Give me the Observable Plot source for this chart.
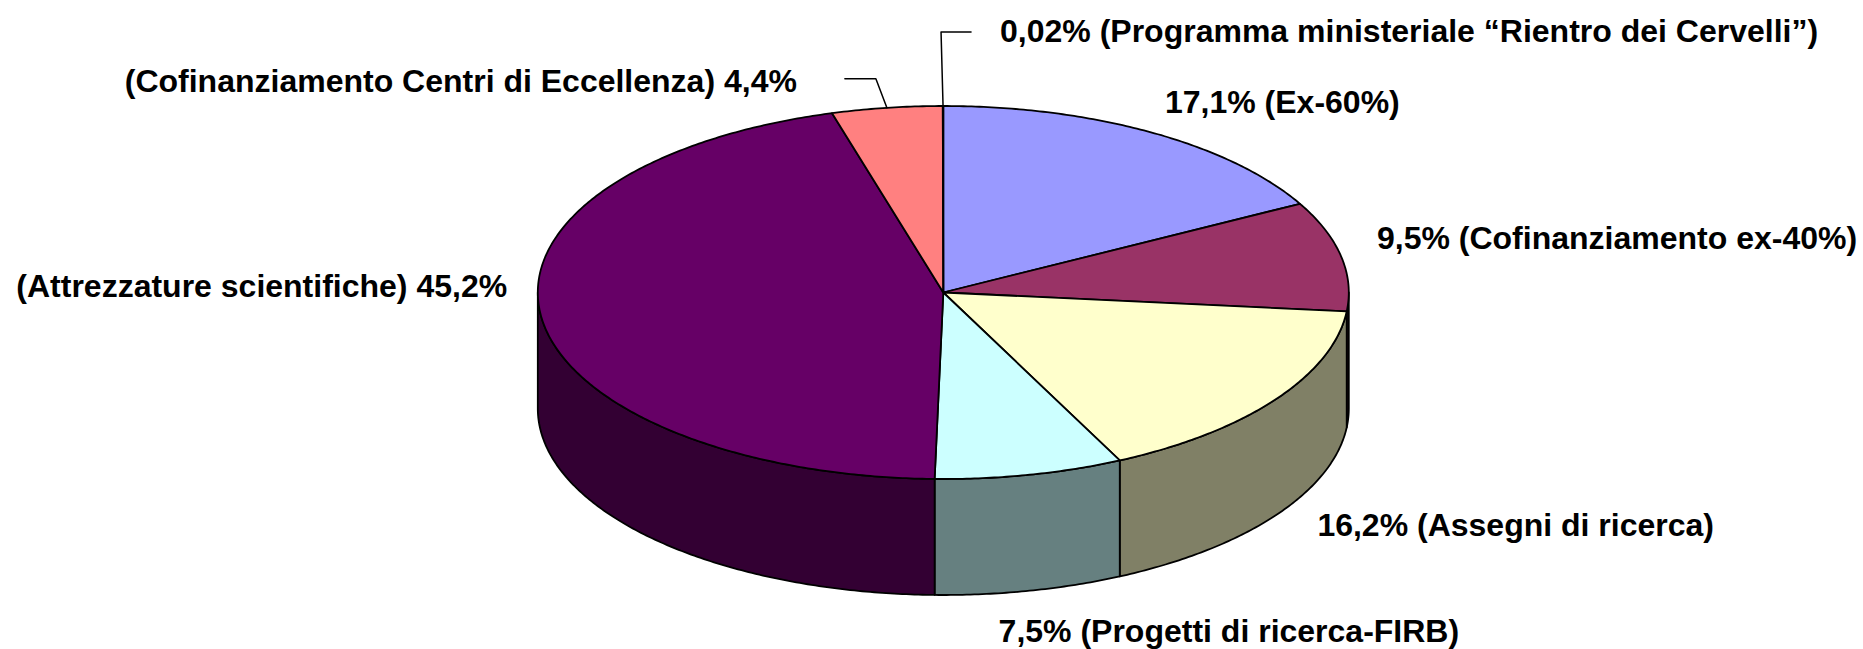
<!DOCTYPE html>
<html>
<head>
<meta charset="utf-8">
<script src="https://cdn.jsdelivr.net/npm/d3@7"></script>
<script src="https://cdn.jsdelivr.net/npm/@observablehq/plot@0.6"></script>
<style>html,body{margin:0;padding:0;background:#fff}svg{display:block}</style>
</head>
<body>
<div id="chart"></div>
<script>
// Data: clockwise from 12 o'clock
const names = ["Ex-60%", "Cofinanziamento ex-40%", "Assegni di ricerca", "Progetti di ricerca-FIRB", "Attrezzature scientifiche", "Cofinanziamento Centri di Eccellenza", "Programma ministeriale Rientro dei Cervelli"];
const values = [17.1, 9.5, 16.2, 7.5, 45.2, 4.4, 0.02];
const labels = [
  "17,1% (Ex-60%)",
  "9,5% (Cofinanziamento ex-40%)",
  "16,2% (Assegni di ricerca)",
  "7,5% (Progetti di ricerca-FIRB)",
  "(Attrezzature scientifiche) 45,2%",
  "(Cofinanziamento Centri di Eccellenza) 4,4%",
  "0,02% (Programma ministeriale “Rientro dei Cervelli”)"
];
const topColors = ["#9999FF", "#993366", "#FFFFCC", "#CCFFFF", "#660066", "#FF8080", "#0066CC"];
const sideColors = ["#4D4D80", "#4D1A33", "#808066", "#668080", "#330033", "#804040", "#003366"];

// Layout (pixels)
const W = 1863, H = 649;
const cx = 942.8, cy = 292, rx = 405.5, ry = 186.5, depth = 116;
const labelOffsets = [[14, -30, "start"], [36, -17, "start"], [42, 126, "start"], [-31, 157, "start"], [-34, -30, "end"], [-90, -26, "end"], [57, -74, "start"]];
const leaderKnees = {5: [[-11, -29], [-42, -29]], 6: [[-2, -74], [28, -74]]};

const ux = (px) => px / rx, uy = (px) => px / ry; // pixels to pie units
const total = d3.sum(values);
const cum = d3.cumsum(values);
const starts = values.map((v, i) => ((cum[i] - v) / total) * 2 * Math.PI);
const ends = values.map((v, i) => (cum[i] / total) * 2 * Math.PI);
const rim = (a, z = 0) => ({x: Math.sin(a), y: Math.cos(a) - z});
const arc = (a0, a1, z = 0) => {
  const n = Math.max(1, Math.ceil((a1 - a0) / 0.01));
  return d3.range(n + 1).map((i) => rim(a0 + ((a1 - a0) * i) / n, z));
};
const dz = uy(depth);

const tops = [], sides = [];
values.forEach((v, i) => {
  const poly = [{x: 0, y: 0}, ...arc(starts[i], ends[i]), {x: 0, y: 0}];
  poly.forEach((p) => tops.push({...p, id: i, color: topColors[i]}));
  const a0 = Math.max(starts[i], Math.PI / 2), a1 = Math.min(ends[i], 1.5 * Math.PI);
  if (a1 > a0) {
    const s = [...arc(a0, a1), ...arc(a0, a1, dz).reverse()];
    [...s, s[0]].forEach((p) => sides.push({...p, id: i, color: sideColors[i]}));
  }
});

const texts = labels.map((t, i) => {
  const p = rim((starts[i] + ends[i]) / 2);
  return {text: t, x: p.x + ux(labelOffsets[i][0]), y: p.y - uy(labelOffsets[i][1]), anchor: labelOffsets[i][2]};
});
const leaders = Object.entries(leaderKnees).flatMap(([i, knees]) => {
  const p = rim((starts[i] + ends[i]) / 2);
  return [p, ...knees.map(([dx, dy]) => ({x: p.x + ux(dx), y: p.y - uy(dy)}))].map((q) => ({...q, id: i}));
});

const face = (data, sw) => Plot.line(data, {x: "x", y: "y", z: "id", fill: "color", stroke: "#000", strokeWidth: sw, strokeLinejoin: "round"});
const label = (anchor) => Plot.text(texts.filter((d) => d.anchor === anchor), {
  x: "x", y: "y", text: "text", textAnchor: anchor, lineAnchor: "middle",
  fontFamily: "'Liberation Sans', Arial, sans-serif", fontWeight: "bold", fontSize: 32, fill: "#000"
});

const chart = Plot.plot({
  width: W, height: H,
  marginTop: 0, marginRight: 0, marginBottom: 0, marginLeft: 0,
  x: {domain: [-1, 1], range: [cx - rx, cx + rx], axis: null},
  y: {domain: [1, -1], range: [cy - ry, cy + ry], axis: null},
  color: {type: "identity"},
  style: {background: "#fff"},
  marks: [
    face(sides, 1.8),
    face(tops, 1.8),
    Plot.line(leaders, {x: "x", y: "y", z: "id", stroke: "#000", strokeWidth: 1.5}),
    label("start"),
    label("end")
  ]
});
document.getElementById("chart").append(chart);
</script>
</body>
</html>
